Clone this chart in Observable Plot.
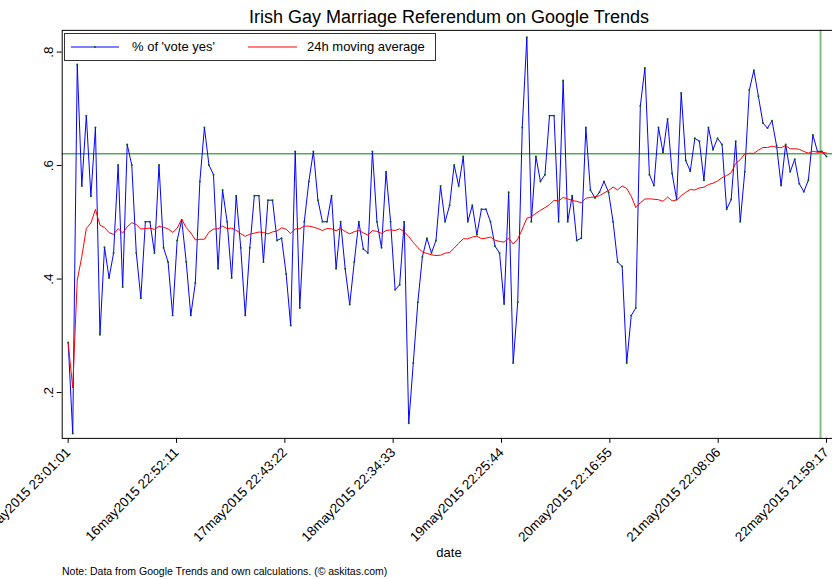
<!DOCTYPE html>
<html>
<head>
<meta charset="utf-8">
<script src="https://cdn.jsdelivr.net/npm/d3@7"></script>
<script src="https://cdn.jsdelivr.net/npm/@observablehq/plot@0.6"></script>
<style>
  html, body { margin: 0; padding: 0; background: #fff; overflow: hidden; }
  #wrap { position: relative; width: 832px; height: 579px; overflow: hidden;
          font-family: "Liberation Sans", Arial, Helvetica, sans-serif; color: #000; background: #fff; }
  #chart { position: absolute; left: 0; top: 0; }
  #title { position: absolute; left: 62px; width: 774px; top: 7px; text-align: center; font-size: 18px; }
  #legend { position: absolute; left: 64px; top: 33px; width: 370px; height: 26px;
            border: 1px solid #333; background: #fff; font-size: 13px; }
  #legend svg { position: absolute; left: 0; top: 0; }
  #legend span { position: absolute; top: 5px; white-space: pre; }
  #xlabel { position: absolute; left: 62px; width: 774px; top: 545px; text-align: center; font-size: 13px; }
  #note { position: absolute; left: 62px; top: 565px; font-size: 10.5px; white-space: pre; }
</style>
</head>
<body>
<div id="wrap">
  <div id="chart"></div>
  <div id="title">Irish Gay Marriage Referendum on Google Trends</div>
  <div id="legend">
    <svg width="370" height="26">
      <line x1="6" x2="54" y1="13" y2="13" stroke="#0000ff" stroke-width="1"/>
      <circle cx="30" cy="13" r="1" fill="#006400"/>
      <line x1="183" x2="232" y1="13" y2="13" stroke="#ff0000" stroke-width="1"/>
    </svg>
    <span style="left:67px">% of 'vote yes'</span>
    <span style="left:242px">24h moving average</span>
  </div>
  <div id="xlabel">date</div>
  <div id="note">Note: Data from Google Trends and own calculations. (© askitas.com)</div>
</div>
<script>
// x-axis tick labels as printed on the chart (first and last are the data range)
const xTickLabels = [
  "15may2015 23:01:01", "16may2015 22:52:11", "17may2015 22:43:22", "18may2015 22:34:33",
  "19may2015 22:25:44", "20may2015 22:16:55", "21may2015 22:08:06", "22may2015 21:59:17"
];
const yTicks = [0.2, 0.4, 0.6, 0.8];
const yTickLabels = [".2", ".4", ".6", ".8"];

// hourly share of 'vote yes' searches
const voteYes = [
  0.288, 0.128, 0.778, 0.564, 0.688, 0.546, 0.667, 0.302, 0.456, 0.402,
  0.446, 0.601, 0.386, 0.637, 0.601, 0.446, 0.366, 0.501, 0.501, 0.446,
  0.601, 0.455, 0.430, 0.336, 0.468, 0.504, 0.430, 0.336, 0.393, 0.572,
  0.667, 0.601, 0.584, 0.418, 0.557, 0.501, 0.402, 0.547, 0.455, 0.336,
  0.455, 0.547, 0.547, 0.430, 0.539, 0.539, 0.468, 0.472, 0.409, 0.318,
  0.625, 0.349, 0.501, 0.572, 0.625, 0.539, 0.501, 0.501, 0.547, 0.418,
  0.501, 0.418, 0.355, 0.430, 0.501, 0.453, 0.446, 0.625, 0.501, 0.455,
  0.589, 0.501, 0.381, 0.390, 0.501, 0.146, 0.252, 0.359, 0.439, 0.472,
  0.446, 0.468, 0.564, 0.501, 0.530, 0.601, 0.564, 0.616, 0.501, 0.530,
  0.478, 0.523, 0.523, 0.501, 0.458, 0.446, 0.356, 0.553, 0.252, 0.359,
  0.667, 0.826, 0.501, 0.616, 0.572, 0.584, 0.688, 0.688, 0.501, 0.750,
  0.501, 0.547, 0.468, 0.472, 0.667, 0.557, 0.543, 0.553, 0.572, 0.553,
  0.501, 0.430, 0.422, 0.252, 0.336, 0.349, 0.705, 0.772, 0.584, 0.565,
  0.667, 0.623, 0.682, 0.586, 0.540, 0.728, 0.609, 0.590, 0.648, 0.643,
  0.574, 0.667, 0.628, 0.648, 0.637, 0.523, 0.540, 0.643, 0.501, 0.589,
  0.733, 0.768, 0.722, 0.675, 0.666, 0.679, 0.635, 0.565, 0.637, 0.589,
  0.611, 0.568, 0.554, 0.574, 0.654, 0.625, 0.625, 0.616
];

const resultYes = 0.6207;              // official referendum result (green horizontal line)
const markerTime = "22may2015 20:40:00"; // vertical marker

const parse = d3.utcParse("%d%b%Y %H:%M:%S");
const xTickDates = xTickLabels.map(parse);
const start = xTickDates[0], end = xTickDates[xTickDates.length - 1];
const step = (end - start) / (voteYes.length - 1);
const data = voteYes.map((v, i) => ({ t: new Date(+start + i * step), v }));
const marker = parse(markerTime);

const chart = Plot.plot({
  width: 836,
  height: 579,
  marginTop: 30,
  marginBottom: 139,
  marginLeft: 62,
  marginRight: 0,
  style: { fontFamily: "Liberation Sans, Arial, Helvetica, sans-serif", fontSize: "13.5px", color: "#000", background: "#fff" },
  x: {
    type: "utc",
    domain: [start, end],
    inset: 6,
    ticks: xTickDates,
    tickFormat: d => xTickLabels[xTickDates.findIndex(e => +e === +d)],
    tickRotate: -45,
    tickSize: 5,
    label: null
  },
  y: {
    domain: d3.extent(voteYes),
    insetTop: 7,
    insetBottom: 5,
    ticks: yTicks,
    tickFormat: d => yTickLabels[yTicks.indexOf(d)],
    tickRotate: -90,
    tickSize: 5,
    label: null
  },
  marks: [
    Plot.ruleY([resultYes], { stroke: "#008000", strokeWidth: 1 }),
    Plot.ruleX([marker], { stroke: "#7fc07f", strokeWidth: 2 }),
    Plot.line(data, { x: "t", y: "v", stroke: "#0000ff", strokeWidth: 1 }),
    Plot.dot(data, { x: "t", y: "v", r: 1, fill: "#006400", stroke: null }),
    Plot.lineY(data, Plot.windowY({ k: 24, anchor: "end", strict: false, reduce: "mean" },
      { x: "t", y: "v", stroke: "#ff0000", strokeWidth: 1 })),
    Plot.frame({ stroke: "#000" })
  ]
});
document.getElementById("chart").appendChild(chart);
</script>
</body>
</html>
